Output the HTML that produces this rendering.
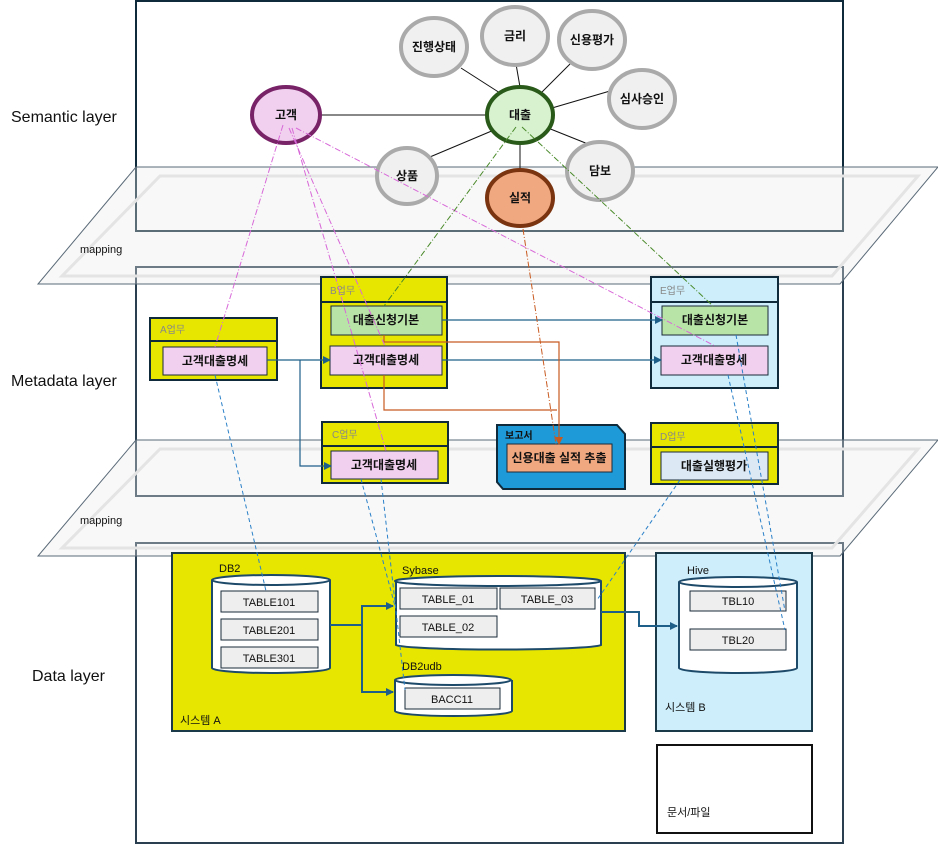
<!DOCTYPE html>
<html><head><meta charset="utf-8"><style>
body{margin:0;background:#fff;}
svg{display:block;font-family:"Liberation Sans","Noto Sans CJK KR",sans-serif;}
.b{font-weight:bold;font-size:12px;fill:#111;}
.h{font-size:10px;fill:#888;}
.t{font-size:11px;fill:#111;}
</style></head><body>
<svg width="938" height="845" viewBox="0 0 938 845" xmlns="http://www.w3.org/2000/svg">
<defs>
<marker id="ab" markerWidth="8" markerHeight="8" refX="7" refY="4" orient="auto" markerUnits="userSpaceOnUse"><path d="M0,0 L8,4 L0,8 z" fill="#1e5f8a"/></marker>
<marker id="ao" markerWidth="8" markerHeight="8" refX="7" refY="4" orient="auto" markerUnits="userSpaceOnUse"><path d="M0,0 L8,4 L0,8 z" fill="#c85a20"/></marker>
</defs>
<!-- layer boxes -->
<rect x="136" y="1" width="707" height="230" fill="#fff" stroke="#0f2a3a" stroke-width="2"/>
<rect x="136" y="267" width="707" height="229" fill="#fff" stroke="#2a4050" stroke-width="2"/>
<rect x="136" y="543" width="707" height="300" fill="#fff" stroke="#2a4050" stroke-width="2"/>
<!-- planes -->
<polygon points="136,167 938,167 840,284 38,284" fill="rgba(235,235,235,0.35)" stroke="#5a6a78" stroke-width="1"/>
<polygon points="160,176 918,176 832,276 62,276" fill="none" stroke="#e4e4e4" stroke-width="3"/>
<polygon points="136,440 938,440 840,556 38,556" fill="rgba(235,235,235,0.35)" stroke="#5a6a78" stroke-width="1"/>
<polygon points="160,449 918,449 832,548 62,548" fill="none" stroke="#e4e4e4" stroke-width="3"/>
<text x="80" y="253" class="t" font-size="11">mapping</text>
<text x="80" y="524" class="t" font-size="11">mapping</text>
<text x="11" y="122" font-size="16" fill="#111">Semantic layer</text>
<text x="11" y="386" font-size="16" fill="#111">Metadata layer</text>
<text x="32" y="681" font-size="16" fill="#111">Data layer</text>

<!-- semantic connectors -->
<g stroke="#111" stroke-width="1">
<line x1="319" y1="115" x2="487" y2="115"/>
<line x1="520" y1="87" x2="516" y2="64"/>
<line x1="500" y1="93" x2="461" y2="68"/>
<line x1="541" y1="93" x2="572" y2="62"/>
<line x1="552" y1="108" x2="610" y2="91"/>
<line x1="548" y1="128" x2="593" y2="146"/>
<line x1="494" y1="130" x2="418" y2="162"/>
<line x1="520" y1="143" x2="520" y2="170"/>
</g>
<g stroke="#aaa" stroke-width="4" fill="#f0f0f0">
<ellipse cx="434" cy="47" rx="33" ry="29"/>
<ellipse cx="515" cy="36" rx="33" ry="29"/>
<ellipse cx="592" cy="40" rx="33" ry="29"/>
<ellipse cx="642" cy="99" rx="33" ry="29"/>
<ellipse cx="600" cy="171" rx="33" ry="29"/>
<ellipse cx="407" cy="176" rx="30" ry="28"/>
</g>
<ellipse cx="286" cy="115" rx="34" ry="28" fill="#f0d0ee" stroke="#782268" stroke-width="4"/>
<ellipse cx="520" cy="115" rx="33" ry="28" fill="#d8f2d0" stroke="#2a5a1a" stroke-width="4"/>
<ellipse cx="520" cy="198" rx="33" ry="28" fill="#f0a880" stroke="#7a3410" stroke-width="4"/>
<g class="b" text-anchor="middle">
<text x="434" y="51">진행상태</text><text x="515" y="40">금리</text><text x="592" y="44">신용평가</text>
<text x="642" y="103">심사승인</text><text x="600" y="175">담보</text><text x="407" y="180">상품</text>
<text x="286" y="119">고객</text><text x="520" y="119">대출</text><text x="520" y="202">실적</text>
</g>

<!-- metadata boxes -->
<g stroke="#0f2a3a" stroke-width="2">
<rect x="150" y="318" width="127" height="62" fill="#e6e600"/><line x1="150" y1="341" x2="277" y2="341"/>
<rect x="321" y="277" width="126" height="111" fill="#e6e600"/><line x1="321" y1="302" x2="447" y2="302"/>
<rect x="651" y="277" width="127" height="111" fill="#cdeefa"/><line x1="651" y1="302" x2="778" y2="302"/>
<rect x="322" y="422" width="126" height="61" fill="#e6e600"/><line x1="322" y1="446" x2="448" y2="446"/>
<rect x="651" y="423" width="127" height="61" fill="#e6e600"/><line x1="651" y1="447" x2="778" y2="447"/>
<polygon points="497,425 617,425 625,434 625,489 503,489 497,482" fill="#1e9ad8"/>
</g>
<g stroke="#1a2a3a" stroke-width="1">
<rect x="163" y="347" width="104" height="28" fill="#f0d0ee"/>
<rect x="331" y="306" width="111" height="29" fill="#b8e4a8"/>
<rect x="330" y="346" width="112" height="29" fill="#f0d0ee"/>
<rect x="662" y="306" width="106" height="29" fill="#b8e4a8"/>
<rect x="661" y="346" width="107" height="29" fill="#f0d0ee"/>
<rect x="331" y="451" width="107" height="28" fill="#f0d0ee"/>
<rect x="507" y="444" width="105" height="28" fill="#f0a880"/>
<rect x="661" y="452" width="107" height="28" fill="#dce8f4"/>
</g>
<g class="h"><text x="160" y="333">A업무</text><text x="330" y="294">B업무</text><text x="660" y="294">E업무</text><text x="332" y="438">C업무</text><text x="660" y="440">D업무</text></g>
<text x="505" y="439" font-size="10" fill="#111" font-weight="bold">보고서</text>
<g class="b" text-anchor="middle" font-size="11">
<text x="215" y="365">고객대출명세</text><text x="386" y="324">대출신청기본</text><text x="386" y="364">고객대출명세</text>
<text x="715" y="324">대출신청기본</text><text x="714" y="364">고객대출명세</text><text x="384" y="469">고객대출명세</text>
<text x="559" y="462">신용대출 실적 추출</text><text x="714" y="470">대출실행평가</text>
</g>
<!-- metadata arrows -->
<g stroke="#1e5f8a" stroke-width="1.2" fill="none">
<polyline points="267,360 330,360" marker-end="url(#ab)"/>
<polyline points="300,360 300,466 331,466" marker-end="url(#ab)"/>
<polyline points="442,320 662,320" marker-end="url(#ab)"/>
<polyline points="442,360 661,360" marker-end="url(#ab)"/>
</g>
<g stroke="#c85a20" stroke-width="1.2" fill="none">
<polyline points="384,335 384,342 559,342 559,444" marker-end="url(#ao)"/>
<polyline points="384,375 384,410 557,410"/>
</g>

<!-- data layer -->
<rect x="172" y="553" width="453" height="178" fill="#e6e600" stroke="#1a3a4a" stroke-width="2"/>
<rect x="656" y="553" width="156" height="178" fill="#cdeefa" stroke="#1a3a4a" stroke-width="2"/>
<rect x="657" y="745" width="155" height="88" fill="#fff" stroke="#111" stroke-width="2"/>
<text x="180" y="724" class="t">시스템 A</text><text x="665" y="711" class="t">시스템 B</text><text x="667" y="816" class="t">문서/파일</text>
<g stroke="#1e4a6a" stroke-width="2" fill="#fff">
<path d="M212,580 L212,668 A59,5 0 0 0 330,668 L330,580"/><ellipse cx="271" cy="580" rx="59" ry="5"/>
<path d="M396,581 L396,645 A103,5 0 0 0 601,645 L601,581"/><ellipse cx="498" cy="581" rx="103" ry="5"/>
<path d="M395,680 L395,711 A58,5 0 0 0 512,711 L512,680"/><ellipse cx="453" cy="680" rx="58" ry="5"/>
<path d="M679,582 L679,668 A59,5 0 0 0 797,668 L797,582"/><ellipse cx="738" cy="582" rx="59" ry="5"/>
</g>
<g stroke="#1a2a3a" stroke-width="1" fill="#eeeeee">
<rect x="221" y="591" width="97" height="21"/><rect x="221" y="619" width="97" height="21"/><rect x="221" y="647" width="97" height="21"/>
<rect x="400" y="588" width="97" height="21"/><rect x="500" y="588" width="95" height="21"/><rect x="400" y="616" width="97" height="21"/>
<rect x="405" y="688" width="95" height="21"/>
<rect x="690" y="591" width="96" height="20"/><rect x="690" y="629" width="96" height="21"/>
</g>
<g class="t" text-anchor="middle">
<text x="269" y="606">TABLE101</text><text x="269" y="634">TABLE201</text><text x="269" y="662">TABLE301</text>
<text x="448" y="603">TABLE_01</text><text x="547" y="603">TABLE_03</text><text x="448" y="631">TABLE_02</text>
<text x="452" y="703">BACC11</text><text x="738" y="605">TBL10</text><text x="738" y="644">TBL20</text>
</g>
<g class="t"><text x="219" y="572">DB2</text><text x="402" y="574">Sybase</text><text x="402" y="670">DB2udb</text><text x="687" y="574">Hive</text></g>
<g stroke="#1e5f8a" stroke-width="2" fill="none">
<polyline points="330,625 362,625 362,606 393,606" marker-end="url(#ab)"/>
<polyline points="362,625 362,692 393,692" marker-end="url(#ab)"/>
<polyline points="601,612 639,612 639,626 677,626" marker-end="url(#ab)"/>
</g>

<!-- mapping lines -->
<g stroke="#d868d8" stroke-width="1" fill="none" stroke-dasharray="6,2,1,2">
<line x1="283" y1="125" x2="215" y2="347"/>
<line x1="289" y1="128" x2="385" y2="346"/>
<line x1="292" y1="128" x2="386" y2="451"/>
<line x1="296" y1="128" x2="715" y2="346"/>
</g>
<g stroke="#4a8a2a" stroke-width="1" fill="none" stroke-dasharray="6,2,1,2">
<line x1="516" y1="127" x2="384" y2="306"/>
<line x1="522" y1="127" x2="713" y2="306"/>
</g>
<line x1="523" y1="229" x2="556" y2="444" stroke="#c85a20" stroke-width="1" stroke-dasharray="6,2,1,2"/>
<g stroke="#2a80c8" stroke-width="1" fill="none" stroke-dasharray="4,3">
<line x1="215" y1="375" x2="266" y2="591"/>
<line x1="361" y1="479" x2="395" y2="606"/>
<line x1="381" y1="479" x2="405" y2="690"/>
<line x1="680" y1="480" x2="597" y2="600"/>
<line x1="728" y1="375" x2="785" y2="630"/>
<line x1="736" y1="335" x2="785" y2="611"/>
</g>
</svg>
</body></html>
